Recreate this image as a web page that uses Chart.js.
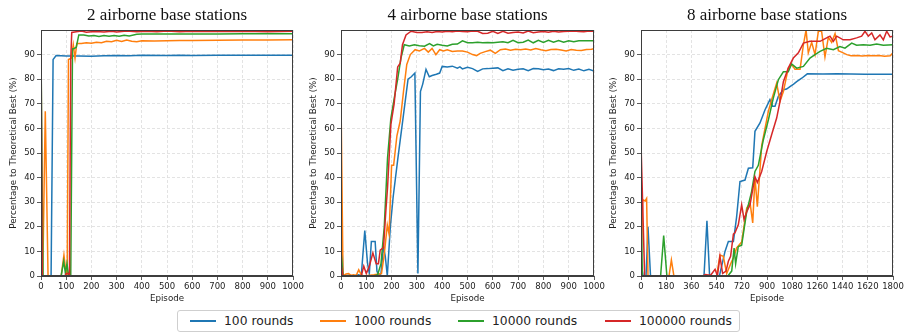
<!DOCTYPE html>
<html lang="en">
<head>
<meta charset="UTF-8">
<title>Percentage to theoretical best per episode</title>
<script src="https://cdn.jsdelivr.net/npm/chart.js"></script>
<style>
  body { margin: 0; background: #fff; font-family: 'DejaVu Sans', sans-serif; }
  #wrap { position: relative; width: 907px; height: 333px; overflow: hidden; }
  canvas { position: absolute; top: 0; }
  #legend { position: absolute; left: 177px; top: 310px; width: 563px; height: 22px;
            box-sizing: border-box; border: 1px solid #cfcfcf; border-radius: 3px; }
  .item { position: absolute; top: 0; height: 20px; display: flex; align-items: center;
          font-size: 12.3px; color: #222; white-space: nowrap; }
  .swatch { width: 26px; height: 2px; margin-right: 8px; }
</style>
</head>
<body>
<div id="wrap">
  <canvas id="c0" width="309" height="305" style="left:0px"></canvas>
  <canvas id="c1" width="310" height="305" style="left:300px"></canvas>
  <canvas id="c2" width="307" height="305" style="left:600px"></canvas>
  <div id="legend"></div>
</div>
<script>
const titles = ['2 airborne base stations', '4 airborne base stations', '8 airborne base stations'];
const seriesLabels = ['100 rounds', '1000 rounds', '10000 rounds', '100000 rounds'];
const xMaxes = [1000, 1000, 1800];
const xSteps = [100, 100, 180];

// [episode, percentage] pairs
const bs2_r100 = [[0,0],[40,0],[48,88],[60,89.6],[100,89.4],[150,89.4],[200,89.3],[250,89.5],[300,89.6],
  [350,89.5],[400,89.7],[500,89.6],[550,89.7],[600,89.6],[700,89.7],[800,89.7],[900,89.7],[1000,89.7]];
const bs2_r1000 = [[0,40],[7,0],[17,67],[28,0],[80,0],[91,8.5],[100,0.5],[104,0],[109,88],[120,88.5],
  [128,94],[135,88.5],[142,94.5],[160,94.5],[180,94.8],[200,94.6],[220,95],[240,94.8],[260,95.4],[280,95.2],
  [300,95.8],[320,95.3],[340,95.9],[360,95.4],[380,95.2],[400,95.6],[450,95.5],[500,95.6],[550,95.7],
  [600,95.7],[700,95.8],[800,95.9],[900,95.9],[1000,96]];
const bs2_r10000 = [[0,92],[8,0],[80,0],[90,6],[97,1],[103,5],[110,0],[118,0],[125,92.3],[132,92.5],
  [140,93],[150,98],[170,98],[190,97.6],[210,97.8],[230,97.4],[250,97.8],[270,97.5],[290,97.8],[310,97.5],
  [330,97.9],[350,97.6],[380,98.3],[400,98.4],[500,98.4],[600,98.4],[700,98.4],[800,98.5],[900,98.5],[1000,98.5]];
const bs2_r100000 = [[0,99],[5,0],[95,0],[100,1],[108,1],[113,0.5],[118,88],[122,99],[140,99.3],[160,99.6],
  [180,99.1],[200,99.3],[220,99.4],[250,99.2],[280,99.5],[300,99.2],[340,99.6],[380,99.3],[420,99.5],
  [460,99.3],[500,99.6],[550,99.3],[600,99.5],[700,99.4],[800,99.5],[900,99.3],[1000,99.5]];

const bs4_r100 = [[0,24],[8,0],[30,0.3],[50,0],[70,0.5],[80,0],[94,18.5],[105,5],[112,1],[120,14],[135,14],
  [142,2],[150,0],[158,1],[168,12],[175,8],[183,0],[195,20],[206,32],[225,48],[245,64],[265,80],[278,81],
  [292,82.5],[304,1],[314,75],[323,78],[336,84],[349,81],[360,81.5],[377,82],[390,82.5],[400,85.2],[420,85],
  [440,85.3],[460,84.5],[470,85],[480,84.2],[500,84.8],[520,84.3],[540,83.2],[560,84.2],[580,84.3],[600,84.5],
  [620,84.6],[640,83.5],[660,84.2],[680,83.6],[700,84],[720,84.2],[740,83.5],[760,84.3],[780,84.2],[800,83.8],
  [820,84.1],[840,83.5],[860,84.2],[880,84],[900,84.3],[920,83.6],[940,84.1],[960,83.4],[980,84],[1000,83.3]];
const bs4_r1000 = [[0,72],[8,0],[20,0.8],[30,1],[40,0.3],[50,0.5],[60,0.2],[70,2.5],[80,0.5],[90,0],[130,0.5],
  [150,0.8],[160,1],[170,8],[183,20.7],[190,17],[200,45],[208,45],[221,57],[234,63],[247,75],[260,86],[274,90],
  [293,92],[310,91.5],[330,92.5],[345,91],[360,92.5],[375,90],[390,92],[405,91.5],[420,92],[440,91.3],
  [460,91.5],[480,91.5],[500,91],[520,90],[536,89.6],[550,90.5],[570,91.2],[590,91.8],[610,90.5],[630,92],
  [650,92.3],[670,91.8],[690,92.2],[710,92],[730,92.3],[750,91.9],[770,92.5],[790,92],[810,91.6],[830,92.1],
  [850,92.2],[870,91.9],[890,91.5],[910,92.1],[930,91.8],[950,91.7],[970,92.1],[990,92.2],[1000,92.4]];
const bs4_r10000 = [[0,10],[8,0],[130,0],[145,0.5],[158,5],[171,20],[184,48],[197,64],[210,72],[224,80],
  [237,88.6],[250,94],[270,93.5],[290,94],[310,93.6],[330,93.4],[350,94.5],[365,93.5],[380,94.2],[400,93.8],
  [420,93.5],[440,94.2],[460,94.3],[480,95.6],[500,94.8],[520,94.8],[540,95],[560,94.8],[580,94.9],[600,94.8],
  [620,95],[640,95.2],[660,94.8],[680,95.8],[700,94.8],[720,95],[740,95.9],[760,94.8],[780,95.8],[800,94.9],
  [820,95.8],[840,95],[860,95.7],[880,95],[900,95.6],[920,95.2],[940,95.6],[960,95.6],[980,95.6],[1000,95.6]];
const bs4_r100000 = [[0,5],[8,0],[80,0],[90,4],[100,1],[112,4],[126,9.4],[139,5],[148,5],[155,10.5],[168,11.5],
  [177,26],[184,36],[197,61.5],[210,70],[224,85],[234,86.5],[243,94],[257,98],[277,99.5],[300,99],[320,99],
  [340,99.3],[360,99],[380,99.4],[400,99.2],[420,99.5],[440,99.3],[460,99.6],[480,99.4],[500,99.3],[520,99.6],
  [540,99.5],[560,98.6],[580,98.7],[600,99.5],[620,98.6],[640,99.5],[660,98.7],[680,99],[700,99.2],[720,98.8],
  [740,99.6],[760,98.9],[780,99.2],[800,99.4],[820,99.1],[840,99.5],[860,99.2],[880,99.4],[900,99.5],
  [920,99.6],[940,99.4],[960,99.3],[980,99.6],[1000,99.5]];

const bs8_r100 = [[0,5],[15,0],[36,0],[50,20],[68,0],[450,0],[471,22.4],[490,0],[560,0],[600,10],[624,14],
  [660,14],[683,24],[707,38.4],[743,39],[767,43.8],[798,44],[814,58.8],[850,62.2],[886,67.6],[921,71.7],
  [940,69],[957,69],[981,73],[1017,75.7],[1040,76],[1064,77],[1090,78],[1112,79],[1148,80.4],[1188,82.2],
  [1300,82.1],[1400,82.2],[1500,82.1],[1600,82],[1700,82],[1800,82]];
const bs8_r1000 = [[0,2],[12,31],[30,30.5],[40,31.5],[50,0],[200,0],[217,6.5],[235,0],[540,0],[564,8.5],
  [588,8],[612,1],[648,6],[660,7.3],[683,11.4],[719,13.8],[755,27.6],[779,29.7],[798,21.6],[814,40],[831,28.2],
  [862,53],[886,60],[910,67],[933,71.7],[969,78.4],[993,71],[1017,75],[1052,84.5],[1076,86],[1100,84],
  [1136,84],[1160,94],[1179,100],[1195,90.7],[1219,95],[1243,90],[1267,99.5],[1290,99.5],[1314,89],[1338,97],
  [1362,95],[1386,98.5],[1410,91.6],[1433,91],[1470,90],[1500,89.5],[1540,89.6],[1580,89.4],[1620,89.6],
  [1660,89.5],[1700,89.6],[1740,89.3],[1780,89.5],[1800,90.7]];
const bs8_r10000 = [[0,31],[10,0],[140,0],[162,16.4],[185,0],[620,0],[648,2],[665,11.4],[676,5],[695,12],
  [719,12.5],[755,26.2],[790,34.3],[814,42.5],[838,45],[874,55.4],[910,63.5],[945,72.3],[981,79.8],[1017,83],
  [1052,83],[1076,86.2],[1112,84.5],[1160,85.2],[1207,88.6],[1243,90],[1279,91.3],[1326,92.6],[1374,92],
  [1421,93.3],[1457,92.6],[1505,94.7],[1540,93.8],[1588,94],[1636,93.8],[1683,94.3],[1731,93.8],[1800,94]];
const bs8_r100000 = [[0,54],[26,0],[440,0],[460,0.6],[480,0.4],[500,0.5],[529,2.7],[546,0],[564,8],[583,1],
  [607,2],[624,6],[640,8],[660,17],[671,17.6],[695,20.8],[719,28.9],[736,23],[755,26],[779,29],[814,40.4],
  [831,38],[862,42.5],[898,50.6],[933,57.4],[969,64.2],[993,71],[1017,79],[1052,84.5],[1088,88.6],[1124,90.7],
  [1160,94.7],[1207,95.4],[1279,95.4],[1326,96.8],[1350,97.5],[1374,95.4],[1398,97.5],[1445,96],[1493,96],
  [1540,96.8],[1576,97.5],[1600,99.5],[1624,97.5],[1648,98.8],[1671,96],[1707,98],[1731,96],[1755,99.5],
  [1779,97.2],[1800,97.5]];

const panelSeries = [
  [bs2_r100, bs2_r1000, bs2_r10000, bs2_r100000],
  [bs4_r100, bs4_r1000, bs4_r10000, bs4_r100000],
  [bs8_r100, bs8_r1000, bs8_r10000, bs8_r100000]
];

const colors = ['#1f77b4', '#ff7f0e', '#2ca02c', '#d62728'];
const rightPad = [16, 16, 14];

// matplotlib style box around the plot area, drawn over the lines
const frame = {
  id: 'frame',
  afterDatasetsDraw(chart) {
    const { ctx, chartArea: a } = chart;
    ctx.save();
    ctx.strokeStyle = '#3d3d3d';
    ctx.lineWidth = 1;
    ctx.strokeRect(Math.round(a.left) + 0.5, Math.round(a.top) + 0.5,
      Math.round(a.right - a.left) - 1, Math.round(a.bottom - a.top) - 1);
    ctx.restore();
  }
};

const tickFont = { family: 'DejaVu Sans', size: 8.5 };
const labelFont = { family: 'DejaVu Sans', size: 8.7 };
const gridOpts = { color: '#dcdcdc', lineWidth: 0.8, tickColor: '#333', tickLength: 4, tickWidth: 0.8 };

panelSeries.forEach((series, p) => {
  new Chart(document.getElementById('c' + p), {
    type: 'line',
    data: {
      datasets: series.map((pts, i) => ({
        label: seriesLabels[i],
        data: pts.map(([x, y]) => ({ x, y })),
        borderColor: colors[i],
        borderWidth: 1.5,
        pointRadius: 0,
        tension: 0,
        order: 3 - i
      }))
    },
    options: {
      responsive: false,
      animation: false,
      devicePixelRatio: 1,
      layout: { padding: { left: 0, right: rightPad[p], top: 0, bottom: 0 } },
      plugins: {
        legend: { display: false },
        tooltip: { enabled: false },
        title: {
          display: true,
          text: titles[p],
          fullSize: false,
          color: '#111',
          font: { family: 'Liberation Serif', size: 17, weight: 'normal' },
          padding: { top: 5.5, bottom: 4.1 }
        }
      },
      scales: {
        x: {
          type: 'linear',
          min: 0,
          max: xMaxes[p],
          ticks: { stepSize: xSteps[p], autoSkip: false, maxRotation: 0, padding: 2,
                   color: '#222', font: tickFont, callback: v => String(v) },
          grid: gridOpts,
          border: { color: '#3d3d3d', dash: [3, 2] },
          title: { display: true, text: 'Episode', color: '#222', font: labelFont,
                   padding: { top: 0, bottom: 1.5 } },
          afterFit: s => { s.height = 29; }
        },
        y: {
          min: 0,
          max: 100,
          afterBuildTicks: s => { s.ticks = s.ticks.filter(t => t.value < 100); },
          ticks: { stepSize: 10, padding: 2, color: '#222', font: tickFont, callback: v => String(v) },
          grid: gridOpts,
          border: { color: '#3d3d3d', dash: [3, 2] },
          title: { display: true, text: 'Percentage to Theoretical Best (%)', color: '#222',
                   font: labelFont, padding: { top: 9, bottom: 0 } },
          afterFit: s => { s.width = 41; }
        }
      }
    },
    plugins: [frame]
  });
});

// shared legend under the three panels
const legendX = [12, 142, 280, 427];
const legend = document.getElementById('legend');
seriesLabels.forEach((label, i) => {
  const item = document.createElement('div');
  item.className = 'item';
  item.style.left = legendX[i] + 'px';
  item.innerHTML = '<span class="swatch" style="background:' + colors[i] + '"></span>' + label;
  legend.appendChild(item);
});
</script>
</body>
</html>
